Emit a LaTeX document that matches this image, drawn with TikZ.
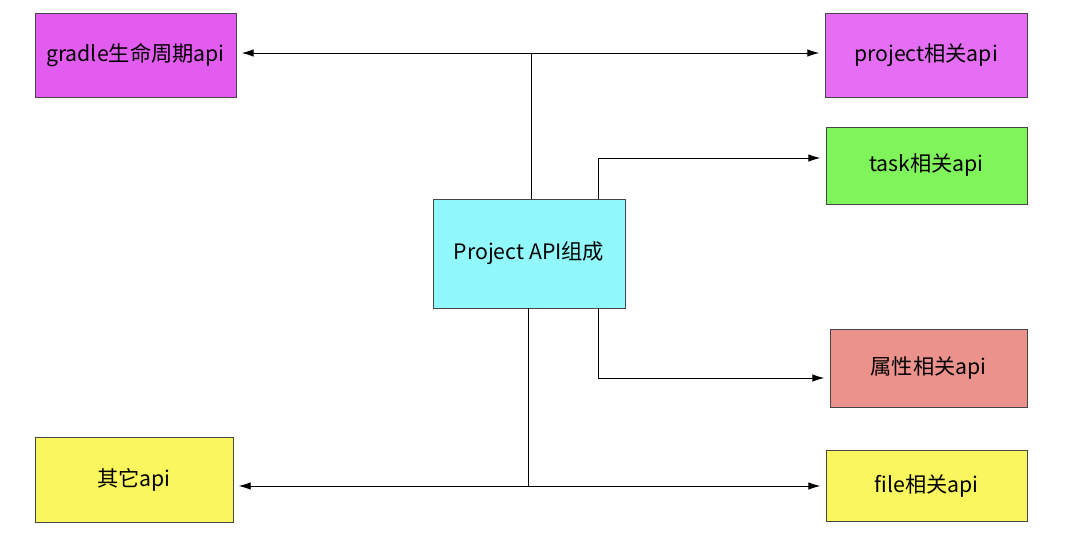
\documentclass[tikz,border=0pt]{standalone}
\usepackage{fontspec}
\usepackage{tikz}
\usetikzlibrary{arrows.meta,positioning}
\newfontfamily\cjk{Noto Sans CJK SC}
\definecolor{lifefill}{RGB}{227,92,240}
\definecolor{projfill}{RGB}{229,110,244}
\definecolor{taskfill}{RGB}{128,245,91}
\definecolor{corefill}{RGB}{145,249,252}
\definecolor{propfill}{RGB}{234,146,139}
\definecolor{yelfill}{RGB}{250,247,94}
\definecolor{edge}{RGB}{70,70,70}

\begin{document}
\begin{tikzpicture}[
  x=0.02cm, y=-0.02cm,
  font=\cjk\fontsize{12.1}{14}\selectfont,
  api/.style={draw=edge, line width=0.5pt, inner sep=2pt},
  link/.style={draw=black, line width=0.5pt},
  to/.style={link, -{Latex[length=2.4mm,width=1.5mm]}, shorten >=3pt},
]
\useasboundingbox (0,0) rectangle (1080,538);

% ===================== centre =====================
\node[api, fill=corefill, minimum width=3.84cm, minimum height=2.18cm] (core) at (529,253.5) {Project API组成};

% ===================== left column =====================
\node[api, fill=lifefill, minimum width=4.02cm, minimum height=1.68cm] (life)  at (135.5,55)  {gradle生命周期api};
\node[api, fill=yelfill,  minimum width=3.96cm, minimum height=1.70cm] (other) at (134,479.5)  {其它api};

% ===================== right column =====================
\node[api, fill=projfill, minimum width=4.04cm, minimum height=1.68cm] (proj) at (926,55)     {project相关api};
\node[api, fill=taskfill, minimum width=4.02cm, minimum height=1.54cm] (task) at (926.5,165.5) {task相关api};
\node[api, fill=propfill, minimum width=3.94cm, minimum height=1.56cm] (prop) at (928.5,368)  {属性相关api};
\node[api, fill=yelfill,  minimum width=4.02cm, minimum height=1.42cm] (file) at (926.5,485.5) {file相关api};

% junctions
\coordinate (top) at (531,53);
\coordinate (bot) at (528,486);
\coordinate (tk)  at (598,158);
\coordinate (pr)  at (598,378);

% top branch: lifecycle <-> project
\draw[link] (core.north -| top) -- (top);
\draw[to] (top) -- (top -| life.east);
\draw[to] (top) -- (top -| proj.west);

% task and property branches
\draw[to] (core.north -| tk) -- (tk) -- (tk -| task.west);
\draw[to] (core.south -| pr) -- (pr) -- (pr -| prop.west);

% bottom branch: other <-> file
\draw[link] (core.south -| bot) -- (bot);
\draw[to] (bot) -- (bot -| other.east);
\draw[to] (bot) -- (bot -| file.west);

\end{tikzpicture}
\end{document}
